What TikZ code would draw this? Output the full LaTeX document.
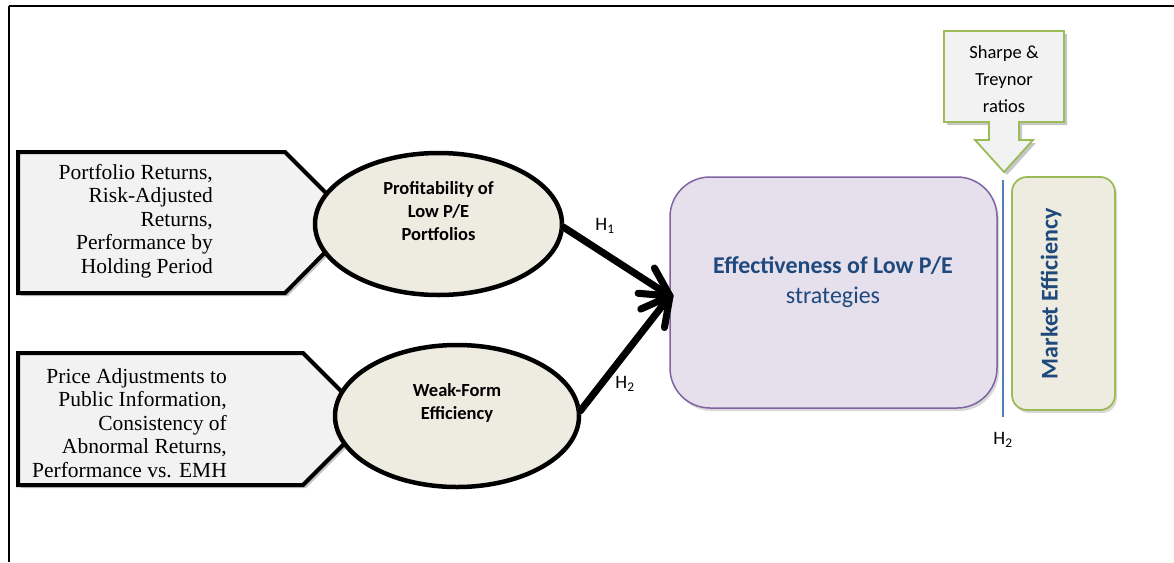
\documentclass[tikz,border=0pt]{standalone}
\usepackage{fontspec}
\setmainfont{Carlito}
\newfontfamily\timesf{Liberation Serif}
\usetikzlibrary{calc,shadows,shapes.geometric}
\definecolor{grayfill}{HTML}{F2F2F2}
\definecolor{ellfill}{HTML}{EEECE1}
\definecolor{purpborder}{HTML}{8064A2}
\definecolor{purpfill}{HTML}{E5E0EC}
\definecolor{greenb}{HTML}{9BBB59}
\definecolor{bluetext}{HTML}{1F497D}
\definecolor{blueline}{HTML}{4F81BD}
\tikzset{
  pentabox/.style={draw=black, line width=4pt, fill=grayfill, line join=miter},
  lefttext/.style={align=right, font=\timesf\fontsize{21.5}{23.5}\selectfont, inner sep=0pt},
  ellnode/.style={ellipse, draw=black, line width=4.5pt, fill=ellfill, inner sep=0pt},
  elltext/.style={align=center, font=\bfseries\fontsize{18.5}{23}\selectfont, inner sep=0pt},
  bigline/.style={line width=7pt, line cap=round, line join=round},
  shadowline/.style={line width=7pt, draw=gray!50, line cap=round, line join=round},
  hlabel/.style={font=\fontsize{19}{22}\selectfont, inner sep=0pt},
}
\begin{document}
\begin{tikzpicture}[x=1pt,y=-1pt]
\useasboundingbox (0,0) rectangle (1174,562);
% frame
\draw[line width=2.2pt] (9,6) -- (1174,6);
\draw[line width=1.2pt] (9,6) -- (9,562);

% left pentagons
\fill[gray!45] (21,155) -- (288,155) -- (358,225) -- (288,296) -- (21,296) -- cycle;
\draw[pentabox] (18,152) -- (285,152) -- (355,222) -- (285,293) -- (18,293) -- cycle;
\fill[gray!45] (21,356) -- (306,356) -- (372,422) -- (306,488) -- (21,488) -- cycle;
\draw[pentabox] (18,353) -- (303,353) -- (369,419) -- (303,485) -- (18,485) -- cycle;
\node[lefttext, anchor=north east] (t1) at (213,164) {Portfolio Returns,\\Risk-Adjusted\\Returns,\\Performance by\\Holding Period};
\node[lefttext, anchor=north east] (t2) at (227,368) {Price Adjustments to\\Public Information,\\Consistency of\\Abnormal Returns,\\Performance vs. EMH};

% ellipses
\node[ellnode, minimum width=247pt, minimum height=142pt] (e1) at (438.5,224) {};
\node[elltext] (e1t) at ($(e1.center)+(0,-13)$) {Profitability of\\Low P/E\\Portfolios};
\node[ellnode, minimum width=244pt, minimum height=142pt] (e2) at (457,416) {};
\node[elltext] (e2t) at ($(e2.center)+(0,-13)$) {Weak-Form\\Efficiency};

% big box
\node[draw=purpborder, line width=1.5pt, fill=purpfill, rounded corners=40pt,
  minimum width=327pt, minimum height=231pt,
  drop shadow={shadow xshift=2pt, shadow yshift=-3pt, fill=gray!60}] (box) at (833.5,292.5) {};
\node[align=center, text=bluetext, inner sep=0pt, font=\fontsize{24}{30}\selectfont] (boxt) at (833,282)
  {\textbf{Effectiveness of Low P/E}\\strategies};

% arrows
\coordinate (tip) at (670,296);
\coordinate (s1) at ($(e1.east)+(-1,3)$);
\coordinate (s2) at ($(e2.east)+(-1,-5)$);
% shadows
\begin{scope}[shift={(2,3)}]
\draw[shadowline] (s1) -- (tip);
\draw[shadowline] ($(tip)!32pt!28:(s1)$) -- (tip) -- ($(tip)!32pt!-28:(s1)$);
\draw[shadowline] (s2) -- (tip);
\draw[shadowline] ($(tip)!32pt!28:(s2)$) -- (tip) -- ($(tip)!32pt!-28:(s2)$);
\end{scope}
\draw[bigline] (s1) -- (tip);
\draw[bigline] ($(tip)!32pt!28:(s1)$) -- (tip) -- ($(tip)!32pt!-28:(s1)$);
\draw[bigline] (s2) -- (tip);
\draw[bigline] ($(tip)!32pt!28:(s2)$) -- (tip) -- ($(tip)!32pt!-28:(s2)$);
\node[hlabel] (h1) at (605,226) {H\textsubscript{1}};
\node[hlabel] (h2) at (625,384) {H\textsubscript{2}};

% blue line
\coordinate (bl1) at (1003,180);
\coordinate (bl2) at (1003,417);
\draw[blueline, line width=1.5pt] (bl1) -- (bl2);
\node[hlabel] (h3) at (1003,440) {H\textsubscript{2}};

% market efficiency
\node[draw=greenb, line width=1.8pt, fill=ellfill, rounded corners=15pt,
  minimum width=103pt, minimum height=233pt,
  drop shadow={shadow xshift=2pt, shadow yshift=-3pt, fill=gray!60}] (me) at (1063.5,293.5) {};
\node[rotate=90, text=bluetext, font=\bfseries\fontsize{24}{28}\selectfont, inner sep=0pt] (met) at (1051,293.5) {Market Efficiency};

% down arrow callout
\fill[gray!45] (947,34) -- (1067,34) -- (1067,125) -- (1022,125) -- (1022,143) -- (1036,143) -- (1007,175) -- (978,143) -- (992,143) -- (992,125) -- (947,125) -- cycle;
\draw[greenb, line width=1.8pt, fill=grayfill, line join=miter]
  (944,31) -- (1064,31) -- (1064,122) -- (1019,122) -- (1019,140) -- (1033,140) -- (1004,172) -- (975,140) -- (989,140) -- (989,122) -- (944,122) -- cycle;
\node[align=center, font=\fontsize{18.5}{27}\selectfont, inner sep=0pt] (sh) at (1004,79) {Sharpe \&\\Treynor\\ratios};
\end{tikzpicture}
\end{document}
